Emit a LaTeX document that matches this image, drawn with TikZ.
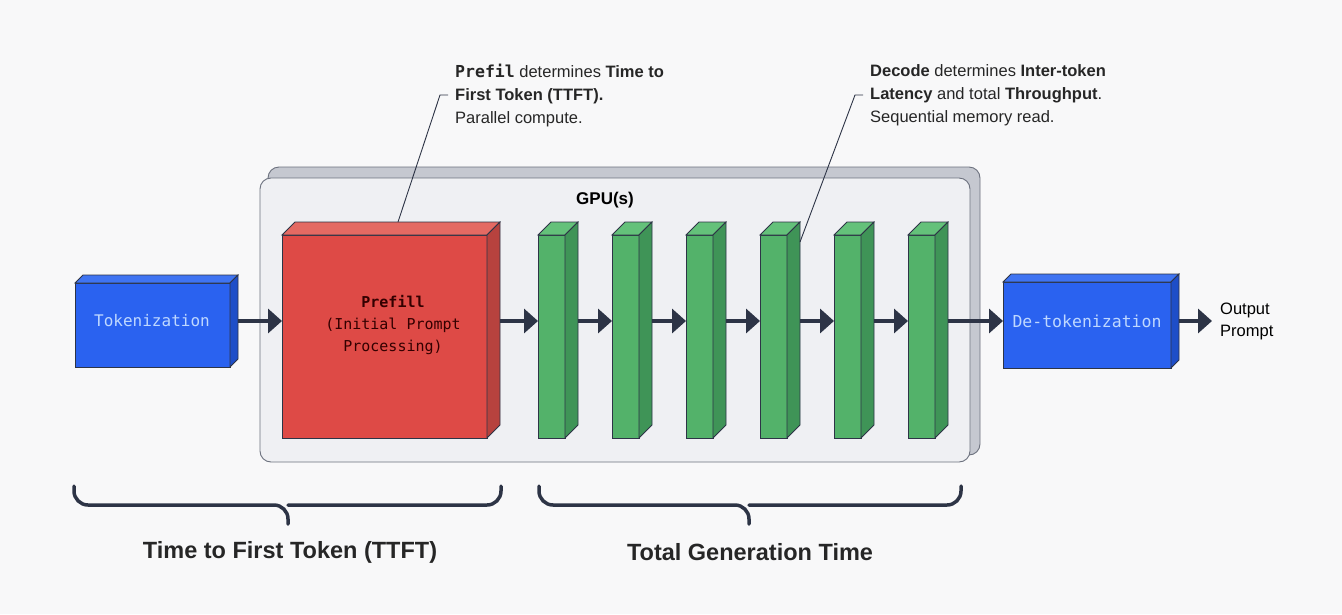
\documentclass[tikz,border=0pt]{standalone}
\usepackage{fontspec}
\setmainfont{Liberation Sans}
\setmonofont{DejaVu Sans Mono}
\usetikzlibrary{arrows.meta,calc}
\definecolor{bg}{HTML}{F8F8F9}
\definecolor{ink}{HTML}{2D3446}
\definecolor{bluef}{HTML}{2A62F0}
\definecolor{bluet}{HTML}{3F74F2}
\definecolor{blues}{HTML}{1E4EC8}
\definecolor{bluetx}{HTML}{BFD8FF}
\definecolor{redf}{HTML}{DE4A46}
\definecolor{redt}{HTML}{E46A63}
\definecolor{reds}{HTML}{B7423E}
\definecolor{greenf}{HTML}{53B26A}
\definecolor{greent}{HTML}{64C17A}
\definecolor{greens}{HTML}{3F9457}
\definecolor{gpuf}{HTML}{EFF0F3}
\definecolor{gpub}{HTML}{C5C8D0}
\newcommand\faces[5]{% name, depth, top, side, border
  \filldraw[fill=#3,draw=#5,line width=0.8pt] (#1.north west)--++(#2,-#2)--($(#1.north east)+(#2,-#2)$)--(#1.north east)--cycle;
  \filldraw[fill=#4,draw=#5,line width=0.8pt] (#1.north east)--++(#2,-#2)--($(#1.south east)+(#2,-#2)$)--(#1.south east)--cycle;}
\begin{document}
\begin{tikzpicture}[x=1pt,y=-1pt,
  face/.style={draw=#1,line width=0.8pt,inner sep=0pt,outer sep=0pt,anchor=north west},
  flow/.style={ink,line width=4.5pt,-{Triangle[length=14pt,width=24pt]}},
  note/.style={font=\fontsize{16.5}{23}\selectfont,align=left,anchor=north west,inner sep=0pt,text=black!85},
  lead/.style={ink,line width=0.9pt},
  brace/.style={ink,line width=3.5pt,line cap=round,rounded corners=14pt},
  blab/.style={font=\fontsize{23.5}{26}\selectfont\bfseries,text=black!85}]
\fill[bg] (0,0) rectangle (1342,614);
\coordinate (ay) at (0,321);
% GPU panel
\filldraw[fill=gpub,draw=ink!70,line width=0.9pt,rounded corners=11pt] (268,167) rectangle (980,455);
\filldraw[fill=gpuf,draw=ink!70,line width=0.9pt,rounded corners=11pt] (260,178) rectangle (970,462);
\node[font=\fontsize{17}{19}\selectfont\bfseries] (gpu) at (605,200) {GPU(s)};
% Tokenization
\node[face=ink,fill=bluef,minimum width=155pt,minimum height=84pt] (tok) at (75,283) {};
\node[text=bluetx,font=\ttfamily\fontsize{16}{18}\selectfont] (tokt) at (152,321) {Tokenization};
\faces{tok}{8}{bluet}{blues}{ink}
% Prefill
\node[face=ink,fill=redf,minimum width=205pt,minimum height=203pt] (pre) at (282,235) {};
\faces{pre}{13}{redt}{reds}{ink}
\node[text=black!80!red,font=\ttfamily\fontsize{15}{22}\selectfont,align=center] (pret) at (393,325) {\textbf{Prefill}\\(Initial Prompt\\Processing)};
% decode bars
\foreach \i/\x in {1/538,2/612,3/686,4/760,5/834,6/908}{
  \node[face=ink,fill=greenf,minimum width=27pt,minimum height=203pt] (b\i) at (\x,235) {};
  \faces{b\i}{13}{greent}{greens}{ink}
}
% Detokenization
\node[face=ink,fill=bluef,minimum width=168pt,minimum height=86pt] (det) at (1003,282) {};
\faces{det}{8}{bluet}{blues}{ink}
\node[text=bluetx,font=\ttfamily\fontsize{16.5}{18}\selectfont] (dett) at (1087,321) {De-tokenization};
\node[anchor=west,align=left,font=\fontsize{16.5}{22}\selectfont,inner sep=0pt] (out) at (1220,321) {Output\\Prompt};
% arrows
\draw[flow] ([xshift=8pt]tok.east |- ay) -- (pre.west |- ay);
\draw[flow] ([xshift=13pt]pre.east |- ay) -- (b1.west |- ay);
\foreach \a/\b in {1/2,2/3,3/4,4/5,5/6}{\draw[flow] ([xshift=13pt]b\a.east |- ay) -- (b\b.west |- ay);}
\draw[flow] ([xshift=13pt]b6.east |- ay) -- (det.west |- ay);
\draw[flow,shorten >=8pt] ([xshift=8pt]det.east |- ay) -- (out.west |- ay);
% callouts
\node[note] (n1) at (455,64) {\texttt{\textbf{Prefil}} determines \textbf{Time to}\\\textbf{First Token (TTFT).}\\Parallel compute.};
\node[note] (n2) at (870,64) {\textbf{Decode} determines \textbf{Inter-token}\\\textbf{Latency} and total \textbf{Throughput}.\\Sequential memory read.};
\coordinate (c1) at (440,95); \coordinate (c2) at (855,95);
\draw[lead] (398,222) -- (c1) -- ++(8,0);
\draw[lead] (800,242) -- (c2) -- ++(8,0);
% braces
\draw[brace] (74,486) -- (74,505) -- (288,505) -- (288,524);
\draw[brace] (288,505) -- (501,505) -- (501,486);
\draw[brace] (539,486) -- (539,505) -- (749,505) -- (749,524);
\draw[brace] (749,505) -- (961,505) -- (961,486);
\node[blab] (l1) at (290,552) {Time to First Token (TTFT)};
\node[blab] (l2) at (750,552) {Total Generation Time};
\end{tikzpicture}
\end{document}
